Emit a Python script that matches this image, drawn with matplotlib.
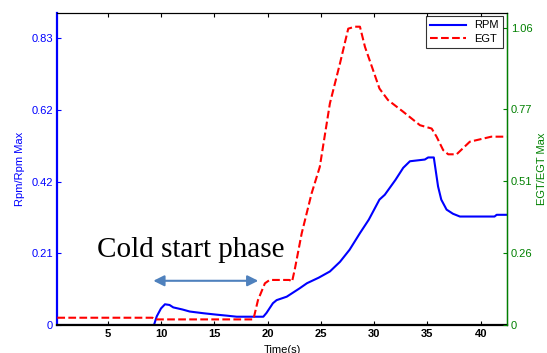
import numpy as np
import matplotlib
matplotlib.use("Agg")
from matplotlib import pyplot as plt

# RPM / RPM max (left axis)
rpm_t = [0.27, 9.34, 9.6, 10.0, 10.37, 10.8, 11.15, 12.0, 12.7, 14.0, 15.2, 16.2, 17.1,
         19.6, 19.9, 20.5, 20.85, 21.8, 23.0, 23.7, 24.8, 25.85, 26.8, 27.7, 28.67,
         29.5, 30.5, 31.0, 32.0, 32.73, 33.36, 34.76, 35.07, 35.6, 36.0, 36.3, 36.8,
         37.4, 38.05, 41.3, 41.5, 42.44]
rpm_v = [0.0, 0.0, 0.025, 0.048, 0.060, 0.058, 0.051, 0.045, 0.039, 0.034, 0.030, 0.027, 0.024,
         0.024, 0.035, 0.063, 0.072, 0.082, 0.106, 0.121, 0.137, 0.155, 0.183, 0.218, 0.266,
         0.305, 0.363, 0.377, 0.420, 0.455, 0.474, 0.479, 0.485, 0.485, 0.401, 0.363, 0.334,
         0.322, 0.314, 0.314, 0.319, 0.319]

# EGT / EGT max (right axis)
egt_t = [0.27, 9.2, 9.4, 18.67, 19.1, 19.75, 20.2, 22.05, 22.3, 22.57, 23.2, 24.13, 24.9,
         25.85, 26.79, 27.57, 28.2, 28.67, 29.14, 29.9, 30.5, 31.3, 32.73, 34.3, 35.4,
         35.86, 36.48, 36.95, 37.74, 38.98, 41.0, 42.44]
egt_v = [0.026, 0.026, 0.020, 0.020, 0.089, 0.149, 0.161, 0.161, 0.155, 0.202, 0.327, 0.470, 0.565,
         0.792, 0.934, 1.059, 1.066, 1.066, 0.994, 0.911, 0.845, 0.804, 0.762, 0.714, 0.702,
         0.673, 0.625, 0.610, 0.610, 0.655, 0.673, 0.673]

left_ticks = [0, 0.2075, 0.415, 0.6225, 0.83]
left_labels = ["0", "0.21", "0.42", "0.62", "0.83"]
right_ticks = [0, 0.2575, 0.515, 0.7725, 1.06]
right_labels = ["0", "0.26", "0.51", "0.77", "1.06"]
x_ticks = [5, 10, 15, 20, 25, 30, 35, 40]

green = (0, 0.5, 0)
plt.rcParams["font.family"] = ["Liberation Sans", "DejaVu Sans"]

fig = plt.figure(figsize=(5.47, 3.53), dpi=100)
ax = fig.add_axes([0.1048, 0.0793, 0.8215, 0.8847])
ax2 = ax.twinx()

l1, = ax.plot(rpm_t, rpm_v, color="blue", lw=1.5, label="RPM")
l2, = ax2.plot(egt_t, egt_v, color="red", lw=1.5, ls="--", label="EGT")

ax.set_xlim(0.27, 42.44)
ax.set_ylim(0, 0.904)
ax2.set_ylim(0, 1.116)

ax.set_xticks(x_ticks)
ax.set_xticklabels([str(t) for t in x_ticks], fontweight="bold", fontsize=8)
ax.set_yticks(left_ticks)
ax.set_yticklabels(left_labels, fontsize=8, color="blue")
ax2.set_yticks(right_ticks)
ax2.set_yticklabels(right_labels, fontsize=8, color=green)

ax.tick_params(axis="x", direction="in", length=3, top=True, pad=3)
ax.tick_params(axis="y", direction="in", length=3, colors="blue", pad=3)
ax2.tick_params(axis="y", direction="in", length=3, colors=green, pad=3)

# spines: blue left, green right, black bottom/top
ax.spines["left"].set_color("blue")
ax.spines["left"].set_linewidth(1.6)
ax.spines["bottom"].set_linewidth(1.6)
ax.spines["top"].set_linewidth(0.8)
ax2.spines["left"].set_visible(False)
ax2.spines["right"].set_color(green)
ax2.spines["right"].set_linewidth(1.0)
ax2.spines["top"].set_linewidth(0.8)
ax2.spines["bottom"].set_visible(False)

ax.set_xlabel("Time(s)", fontsize=8, labelpad=4)
ax.set_ylabel("Rpm/Rpm Max", fontsize=8, color="blue", labelpad=5)
ax2.set_ylabel("EGT/EGT Max", fontsize=8, color=green, rotation=90, labelpad=3)

leg = ax2.legend(handles=[l1, l2], loc="upper right", fontsize=8, frameon=True,
                 fancybox=False, edgecolor="black", borderaxespad=0.3,
                 handlelength=3.2, labelspacing=0.3, borderpad=0.4)
leg.get_frame().set_linewidth(0.8)

# annotation
ax.text(4.0, 0.197, "Cold start phase", fontsize=21, family="Liberation Serif",
        ha="left", va="baseline")
ax.annotate("", xy=(9.28, 0.128), xytext=(19.13, 0.128),
            arrowprops=dict(arrowstyle="<|-|>", color="#4F81BD", lw=1.5,
                            mutation_scale=16, shrinkA=0, shrinkB=0))

plt.savefig("out.png", dpi=100)
plt.close()
